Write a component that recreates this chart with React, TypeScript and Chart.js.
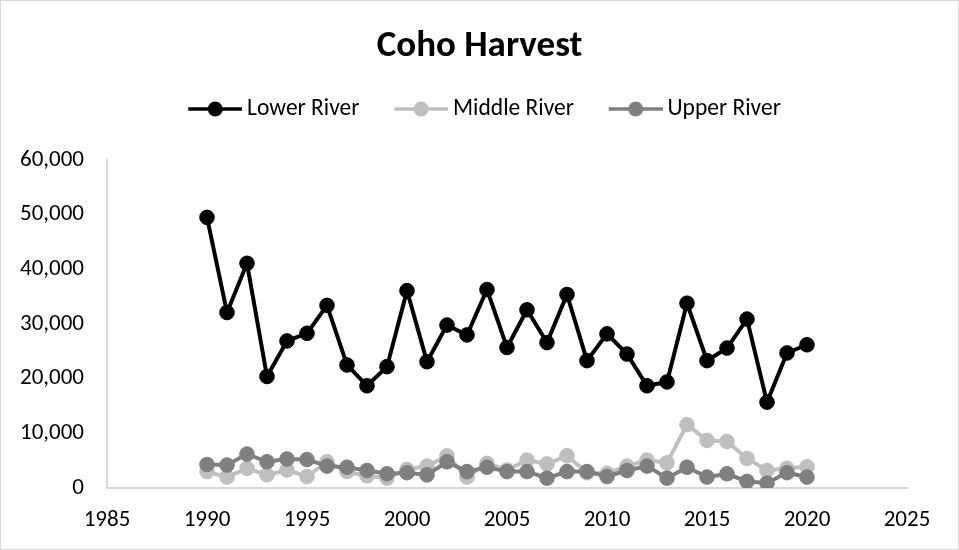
import React, { useEffect, useRef } from "react";
import { Chart, registerables } from "chart.js";

Chart.register(...registerables);

const chartTitle = "Coho Harvest";
const seriesNames = ["Lower River", "Middle River", "Upper River"];
const seriesColors = ["#000000", "#BFBFBF", "#7F7F7F"];

const years = [
  1990, 1991, 1992, 1993, 1994, 1995, 1996, 1997, 1998, 1999,
  2000, 2001, 2002, 2003, 2004, 2005, 2006, 2007, 2008, 2009,
  2010, 2011, 2012, 2013, 2014, 2015, 2016, 2017, 2018, 2019, 2020,
];

const lowerRiver = [
  49500, 32100, 41100, 20400, 26900, 28300, 33400, 22500, 18700, 22200,
  36100, 23100, 29800, 28000, 36300, 25700, 32600, 26600, 35400, 23300,
  28200, 24500, 18700, 19400, 33800, 23300, 25600, 30900, 15700, 24700, 26200,
];

const middleRiver = [
  3000, 2000, 3600, 2400, 3300, 2100, 4800, 3000, 2200, 1800,
  3400, 4000, 5900, 2000, 4500, 3300, 5100, 4400, 5900, 2800,
  2700, 4000, 5100, 4600, 11600, 8700, 8500, 5400, 3200, 3600, 3900,
];

const upperRiver = [
  4300, 4200, 6200, 4800, 5300, 5200, 4000, 3800, 3200, 2600,
  2800, 2400, 4800, 3000, 3800, 3000, 3000, 1800, 3000, 3000,
  2100, 3200, 4000, 1800, 3800, 2000, 2600, 1200, 900, 2800, 2000,
];

const xMin = 1985;
const xMax = 2025;
const xStep = 5;
const yMin = 0;
const yMax = 60000;
const yStep = 10000;

const FONT = "Carlito, Lato, 'Open Sans', sans-serif";

function legendMarker(color: string): HTMLCanvasElement {
  const c = document.createElement("canvas");
  c.width = 71;
  c.height = 18;
  const ctx = c.getContext("2d")!;
  ctx.strokeStyle = color;
  ctx.lineWidth = 3.5;
  ctx.beginPath();
  ctx.moveTo(17, 9);
  ctx.lineTo(71, 9);
  ctx.stroke();
  ctx.fillStyle = color;
  ctx.beginPath();
  ctx.arc(44, 9, 7.5, 0, Math.PI * 2);
  ctx.fill();
  return c;
}

const framePlugin = {
  id: "frame",
  beforeDraw(chart: any) {
    const { ctx, width, height } = chart;
    ctx.save();
    ctx.fillStyle = "#FFFFFF";
    ctx.fillRect(0, 0, width, height);
    ctx.strokeStyle = "#D9D9D9";
    ctx.lineWidth = 1;
    ctx.strokeRect(0.5, 0.5, width - 1, height - 1);
    ctx.restore();
  },
};

export default function App() {
  const canvasRef = useRef<HTMLCanvasElement | null>(null);

  useEffect(() => {
    document.body.style.margin = "0";
    const canvas = canvasRef.current;
    if (!canvas) return;
    const markers = seriesColors.map((c) => legendMarker(c));
    const seriesData = [lowerRiver, middleRiver, upperRiver];
    const orders = [2, 1, 0];

    const chart = new Chart(canvas, {
      type: "line",
      data: {
        datasets: seriesNames.map((name, i) => ({
          label: name,
          data: years.map((yr, j) => ({ x: yr, y: seriesData[i][j] })),
          borderColor: seriesColors[i],
          backgroundColor: seriesColors[i],
          pointBackgroundColor: seriesColors[i],
          pointBorderColor: seriesColors[i],
          pointRadius: 7.3,
          pointBorderWidth: 1,
          borderWidth: 4,
          tension: 0,
          fill: false,
          order: orders[i],
        })),
      },
      options: {
        responsive: false,
        animation: false,
        events: [],
        layout: { padding: 0 },
        font: { family: FONT },
        plugins: {
          title: {
            display: true,
            text: chartTitle,
            color: "#000000",
            font: { family: FONT, size: 37, weight: "bold", lineHeight: 1.2 },
            padding: { top: 24.4, bottom: 3.95 },
          },
          subtitle: {
            display: true,
            text: "",
            weight: 500,
            font: { size: 1, lineHeight: 1 },
            padding: { top: 0, bottom: 28.25 },
          },
          legend: {
            display: true,
            position: "top",
            labels: {
              usePointStyle: true,
              pointStyleWidth: 57.25,
              padding: 24.5,
              color: "#000000",
              font: { family: FONT, size: 23.5 },
              generateLabels: (ch: any) =>
                ch.data.datasets.map((ds: any, i: number) => ({
                  text: ds.label,
                  fillStyle: ds.borderColor,
                  strokeStyle: ds.borderColor,
                  lineWidth: 0,
                  hidden: !ch.isDatasetVisible(i),
                  datasetIndex: i,
                  pointStyle: markers[i],
                  rotation: 0,
                  fontColor: "#000000",
                })),
            },
          },
          tooltip: { enabled: false },
        },
        scales: {
          x: {
            type: "linear",
            min: xMin,
            max: xMax,
            ticks: {
              stepSize: xStep,
              padding: 18,
              color: "#000000",
              font: { family: FONT, size: 23 },
              maxRotation: 0,
              autoSkip: false,
              callback: (v: any) => String(v),
            },
            grid: { display: false, drawTicks: false },
            border: { display: true, color: "#D9D9D9", width: 2 },
            afterFit: (s: any) => {
              s.height = 62;
              s.paddingRight = 52;
            },
          },
          y: {
            type: "linear",
            min: yMin,
            max: yMax,
            ticks: {
              stepSize: yStep,
              padding: 23,
              color: "#000000",
              font: { family: FONT, size: 23 },
              callback: (v: any) => Number(v).toLocaleString("en-US"),
            },
            grid: { display: false, drawTicks: false },
            border: { display: true, color: "#D9D9D9", width: 2 },
            afterFit: (s: any) => {
              s.width = 107;
            },
          },
        },
      } as any,
      plugins: [framePlugin],
    });
    return () => chart.destroy();
  }, []);

  return (
    <div style={{ position: "absolute", left: 0, top: 0, width: 959, height: 550 }}>
      <canvas ref={canvasRef} width={959} height={550} style={{ display: "block" }} />
    </div>
  );
}
